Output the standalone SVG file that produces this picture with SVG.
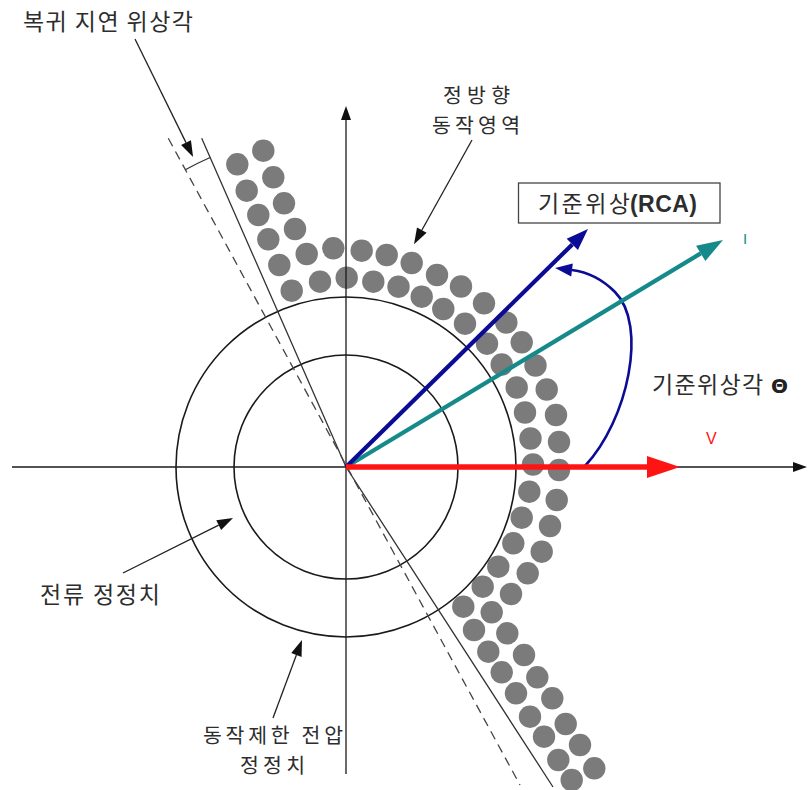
<svg xmlns="http://www.w3.org/2000/svg" width="808" height="790" viewBox="0 0 808 790">
<style>
.t{font-family:"Noto Sans CJK KR","Noto Sans",sans-serif;font-size:23px;fill:#2d2d2d}
.t2{font-family:"Noto Sans CJK KR","Noto Sans",sans-serif;font-size:20.5px;fill:#2d2d2d}
.dot{fill:#7b7b7b}
.ax{stroke:#1a1a1a;stroke-width:1.3;fill:none}
.circ{stroke:#1a1a1a;stroke-width:1.6;fill:none}
.ptr{stroke:#222;stroke-width:1.3;fill:none}
</style>
<defs>
<marker id="ahK" markerUnits="userSpaceOnUse" markerWidth="16" markerHeight="11" refX="0" refY="5.5" orient="auto" overflow="visible"><path d="M0,0 L16,5.5 L0,11 Z" fill="#111"/></marker>
<marker id="ahAx" markerUnits="userSpaceOnUse" markerWidth="14" markerHeight="10" refX="0" refY="5" orient="auto" overflow="visible"><path d="M0,0 L14,5 L0,10 Z" fill="#111"/></marker>
<marker id="ahB" markerUnits="userSpaceOnUse" markerWidth="22" markerHeight="16" refX="0" refY="8" orient="auto" overflow="visible"><path d="M0,0 L22,8 L0,16 Z" fill="#0b0b96"/></marker>
<marker id="ahB2" markerUnits="userSpaceOnUse" markerWidth="17" markerHeight="13" refX="0" refY="6.5" orient="auto" overflow="visible"><path d="M0,0 L17,6.5 L0,13 Z" fill="#0b0b96"/></marker>
<marker id="ahT" markerUnits="userSpaceOnUse" markerWidth="26" markerHeight="18" refX="0" refY="9" orient="auto" overflow="visible"><path d="M0,0 L26,9 L0,18 Z" fill="#168a8a"/></marker>
<marker id="ahR" markerUnits="userSpaceOnUse" markerWidth="33" markerHeight="22" refX="0" refY="11" orient="auto" overflow="visible"><path d="M0,0 L33,11 L0,22 Z" fill="#ff1414"/></marker>
</defs>
<rect width="808" height="790" fill="#fff"/>

<g id="operating-region">
<circle class="dot" cx="237.3" cy="164.3" r="11.2"/>
<circle class="dot" cx="246.7" cy="190.7" r="11.2"/>
<circle class="dot" cx="258.3" cy="215" r="11.2"/>
<circle class="dot" cx="268.3" cy="239.3" r="11.2"/>
<circle class="dot" cx="279.3" cy="265" r="11.2"/>
<circle class="dot" cx="263.3" cy="150.7" r="11.2"/>
<circle class="dot" cx="273.3" cy="177.3" r="11.2"/>
<circle class="dot" cx="284" cy="203.3" r="11.2"/>
<circle class="dot" cx="295" cy="229" r="11.2"/>
<circle class="dot" cx="306.7" cy="254" r="11.2"/>
<circle class="dot" cx="333.3" cy="248.3" r="11.2"/>
<circle class="dot" cx="361.7" cy="250.7" r="11.2"/>
<circle class="dot" cx="386.7" cy="255" r="11.2"/>
<circle class="dot" cx="411.7" cy="263" r="11.2"/>
<circle class="dot" cx="437" cy="275" r="11.2"/>
<circle class="dot" cx="461" cy="286.5" r="11.2"/>
<circle class="dot" cx="484" cy="303.3" r="11.2"/>
<circle class="dot" cx="506.3" cy="322.5" r="11.2"/>
<circle class="dot" cx="521.7" cy="342.3" r="11.2"/>
<circle class="dot" cx="535.5" cy="365.5" r="11.2"/>
<circle class="dot" cx="546.7" cy="389.5" r="11.2"/>
<circle class="dot" cx="556" cy="415" r="11.2"/>
<circle class="dot" cx="559" cy="442" r="11.2"/>
<circle class="dot" cx="559" cy="470" r="11.2"/>
<circle class="dot" cx="556.7" cy="500" r="11.2"/>
<circle class="dot" cx="550" cy="526" r="11.2"/>
<circle class="dot" cx="541.7" cy="551.7" r="11.2"/>
<circle class="dot" cx="527.7" cy="573.3" r="11.2"/>
<circle class="dot" cx="511" cy="594" r="11.2"/>
<circle class="dot" cx="491.7" cy="612.3" r="11.2"/>
<circle class="dot" cx="507.3" cy="633.3" r="11.2"/>
<circle class="dot" cx="524" cy="655" r="11.2"/>
<circle class="dot" cx="537.3" cy="677.3" r="11.2"/>
<circle class="dot" cx="552.3" cy="698.3" r="11.2"/>
<circle class="dot" cx="565.7" cy="724" r="11.2"/>
<circle class="dot" cx="580" cy="745" r="11.2"/>
<circle class="dot" cx="594.3" cy="768.3" r="11.2"/>
<circle class="dot" cx="291.7" cy="290.7" r="11.2"/>
<circle class="dot" cx="320" cy="281.7" r="11.2"/>
<circle class="dot" cx="346.7" cy="277.7" r="11.2"/>
<circle class="dot" cx="373.3" cy="281.7" r="11.2"/>
<circle class="dot" cx="398.5" cy="286.7" r="11.2"/>
<circle class="dot" cx="421.7" cy="296.7" r="11.2"/>
<circle class="dot" cx="443.3" cy="309" r="11.2"/>
<circle class="dot" cx="465" cy="323.7" r="11.2"/>
<circle class="dot" cx="487" cy="343.7" r="11.2"/>
<circle class="dot" cx="501.7" cy="364.5" r="11.2"/>
<circle class="dot" cx="516.7" cy="387.5" r="11.2"/>
<circle class="dot" cx="525" cy="412.5" r="11.2"/>
<circle class="dot" cx="530.5" cy="438.5" r="11.2"/>
<circle class="dot" cx="533" cy="464.5" r="11.2"/>
<circle class="dot" cx="529.3" cy="491.7" r="11.2"/>
<circle class="dot" cx="521.7" cy="517.7" r="11.2"/>
<circle class="dot" cx="513.3" cy="543.3" r="11.2"/>
<circle class="dot" cx="498.3" cy="566.7" r="11.2"/>
<circle class="dot" cx="482.7" cy="586.7" r="11.2"/>
<circle class="dot" cx="463.3" cy="606.7" r="11.2"/>
<circle class="dot" cx="474" cy="630" r="11.2"/>
<circle class="dot" cx="488.3" cy="651.7" r="11.2"/>
<circle class="dot" cx="501.7" cy="672.3" r="11.2"/>
<circle class="dot" cx="516" cy="693.3" r="11.2"/>
<circle class="dot" cx="530" cy="716.7" r="11.2"/>
<circle class="dot" cx="544" cy="736.7" r="11.2"/>
<circle class="dot" cx="558.3" cy="760" r="11.2"/>
<circle class="dot" cx="571.7" cy="780" r="11.2"/>
</g>

<g id="current-setting-circle"><circle class="circ" cx="346" cy="467" r="112"/></g>
<g id="voltage-setting-circle"><circle class="circ" cx="346" cy="467" r="170"/></g>

<g id="axes">
<line class="ax" x1="12" y1="467" x2="793" y2="467" marker-end="url(#ahAx)"/>
<line class="ax" x1="346" y1="774" x2="346" y2="120" marker-end="url(#ahAx)"/>
</g>

<g id="boundary-lines">
<polyline points="201.7,138.3 346,467 553,787" fill="none" stroke="#333" stroke-width="1.3"/>
<line x1="168.3" y1="138.3" x2="520" y2="785" stroke="#444" stroke-width="1.3" stroke-dasharray="9,6"/>
<path d="M185.3,169.7 A338,338 0 0 1 210.1,157.5" fill="none" stroke="#333" stroke-width="1.3"/>
</g>

<g id="connectors">
<line class="ptr" x1="135" y1="39" x2="186" y2="142.6" marker-end="url(#ahK)"/>
<line class="ptr" x1="472" y1="140" x2="421.8" y2="230.2" marker-end="url(#ahK)"/>
<line class="ptr" x1="123" y1="573" x2="218.7" y2="525.2" marker-end="url(#ahK)"/>
<line class="ptr" x1="273" y1="718" x2="296.4" y2="655" marker-end="url(#ahK)"/>
<path d="M585,466 C628,420 648,325 615,292 C602,279 588,272 572,270" fill="none" stroke="#0b0b96" stroke-width="2.6" marker-end="url(#ahB2)"/>
</g>

<g id="vector-I"><line x1="346" y1="467" x2="700.7" y2="253.4" stroke="#168a8a" stroke-width="4.2" marker-end="url(#ahT)"/></g>
<g id="vector-RCA"><line x1="346" y1="467" x2="572.3" y2="244.4" stroke="#0b0b96" stroke-width="4.2" marker-end="url(#ahB)"/></g>
<g id="vector-V"><line x1="346" y1="467" x2="647" y2="467" stroke="#ff1414" stroke-width="5.5" marker-end="url(#ahR)"/></g>

<g id="label-recovery"><text class="t" x="23" y="30" textLength="170" lengthAdjust="spacing">복귀 지연 위상각</text></g>
<g id="label-forward"><text class="t2" x="443" y="103" textLength="67" lengthAdjust="spacing">정방향</text><text class="t2" x="432" y="133" textLength="88" lengthAdjust="spacing">동작영역</text></g>
<g id="rca-box">
<rect x="518.5" y="183" width="201.5" height="40" fill="#fff" stroke="#444" stroke-width="1.3"/>
<text class="t" x="538" y="212" font-size="24" textLength="92" lengthAdjust="spacing">기준위상</text>
<text x="630" y="212" font-family="Liberation Sans,Arial,sans-serif" font-weight="bold" font-size="23" fill="#2d2d2d" textLength="67" lengthAdjust="spacing">(RCA)</text>
</g>
<g id="label-I"><text x="743" y="244" font-family="Liberation Sans,Arial,sans-serif" font-size="15" fill="#168a8a">I</text></g>
<g id="label-theta"><text class="t" x="652" y="393" textLength="136" lengthAdjust="spacing">기준위상각 <tspan font-weight="bold" font-family="DejaVu Sans,sans-serif" font-size="20" fill="#222">Θ</tspan></text></g>
<g id="label-V"><text x="706" y="444" font-family="Liberation Sans,Arial,sans-serif" font-size="16" fill="#ff1414">V</text></g>
<g id="label-current"><text class="t" x="40" y="603" textLength="120" lengthAdjust="spacing">전류 정정치</text></g>
<g id="label-voltage"><text class="t2" x="203" y="743" textLength="140" lengthAdjust="spacing">동작제한 전압</text><text class="t2" x="240" y="773" textLength="65" lengthAdjust="spacing">정정치</text></g>
</svg>
